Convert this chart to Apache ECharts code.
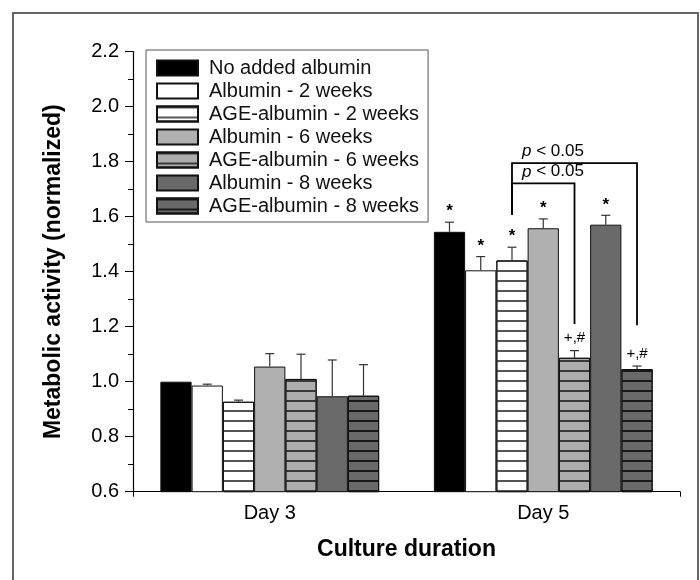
<!DOCTYPE html>
<html><head><meta charset="utf-8">
<script src="https://cdn.jsdelivr.net/npm/echarts@6/dist/echarts.min.js"></script>
<style>html,body{margin:0;padding:0;background:#fff}#c{width:700px;height:580px}</style>
</head><body><div id="c"></div>
<script>
// ---- data ----
const categories = ['Day 3', 'Day 5'];
const seriesNames = ['No added albumin', 'Albumin - 2 weeks', 'AGE-albumin - 2 weeks',
  'Albumin - 6 weeks', 'AGE-albumin - 6 weeks', 'Albumin - 8 weeks', 'AGE-albumin - 8 weeks'];
const noAdded = [1.000, 1.545];
const alb2 = [0.986, 1.405];
const age2 = [0.927, 1.441];
const alb6 = [1.055, 1.558];
const age6 = [1.010, 1.087];
const alb8 = [0.947, 1.571];
const age8 = [0.949, 1.046];
const errNoAdded = [0.000, 0.035];
const errAlb2 = [0.005, 0.050];
const errAge2 = [0.006, 0.048];
const errAlb6 = [0.047, 0.034];
const errAge6 = [0.090, 0.026];
const errAlb8 = [0.132, 0.034];
const errAge8 = [0.113, 0.011];
const marksNoAdded = ['', '*'];
const marksAlb2 = ['', '*'];
const marksAge2 = ['', '*'];
const marksAlb6 = ['', '*'];
const marksAge6 = ['', '+,#'];
const marksAlb8 = ['', '*'];
const marksAge8 = ['', '+,#'];
const yTicks = [0.6, 0.8, 1.0, 1.2, 1.4, 1.6, 1.8, 2.0, 2.2];
const pLabel = 'p < 0.05';

// ---- styling / layout ----
const FONT = '"Liberation Sans", Arial, Helvetica, sans-serif';
const values = [noAdded, alb2, age2, alb6, age6, alb8, age8];
const errs = [errNoAdded, errAlb2, errAge2, errAlb6, errAge6, errAlb8, errAge8];
const marks = [marksNoAdded, marksAlb2, marksAge2, marksAlb6, marksAge6, marksAlb8, marksAge8];
const fills = ['#000000', '#ffffff', '#ffffff', '#b0b0b0', '#adadad', '#696969', '#6a6a6a'];
const hatch = [null, null, '#555555', null, '#3a3a3a', null, '#1a1a1a'];
const NSER = seriesNames.length;

// brackets (annotation geometry in data units, Day 5 group)
const brackets = [
  { from: 2, to: 6, level: 1.795, leftBottom: 1.606, rightBottom: 1.205 },
  { from: 2, to: 4, level: 1.7215, leftBottom: 1.606, rightBottom: 1.21 }
];

const barSeries = seriesNames.map((name, i) => {
  const style = { color: fills[i], borderColor: '#111', borderWidth: 1 };
  if (hatch[i]) {
    style.decal = { symbol: 'rect', symbolSize: 1, dashArrayX: [1, 0], dashArrayY: [1.2, 7.3], rotation: 0, color: hatch[i] };
  }
  return {
    name, type: 'bar', data: values[i], barGap: '0%', barCategoryGap: '20%',
    itemStyle: style, emphasis: { disabled: true }
  };
});

const errItems = [];
for (let s = 0; s < NSER; s++) for (let c = 0; c < categories.length; c++) {
  errItems.push({ value: [c, s, values[s][c], errs[s][c]], mark: marks[s][c] });
}

const errorSeries = {
  type: 'custom', silent: true, z: 5, clip: false,
  data: errItems.map(d => d.value),
  renderItem(params, api) {
    const ci = api.value(0), si = api.value(1), v = api.value(2), e = api.value(3);
    const bw = api.size([1, 0])[0] * 0.8 / NSER;
    const base = api.coord([ci, v]);
    const x = base[0] + (si - (NSER - 1) / 2) * bw;
    const top = api.coord([ci, v + e])[1];
    const children = [];
    const ls = { stroke: '#333', lineWidth: 1.2 };
    if (e > 0) {
      children.push({ type: 'line', shape: { x1: x, y1: base[1], x2: x, y2: top }, style: ls });
      children.push({ type: 'line', shape: { x1: x - 4.5, y1: top, x2: x + 4.5, y2: top }, style: ls });
    }
    const m = errItems[params.dataIndex].mark;
    if (m) {
      const star = m === '*';
      children.push({ type: 'text', style: {
        text: m, x: x, y: top - (star ? 2 : 5), align: 'center', verticalAlign: 'bottom',
        fontFamily: FONT, fontSize: star ? 17 : 15, fontWeight: star ? 'bold' : 'normal', fill: '#000' } });
    }
    return { type: 'group', children };
  }
};

const bracketSeries = {
  type: 'custom', silent: true, z: 6, clip: false,
  data: brackets.map((b, i) => [1, i]),
  renderItem(params, api) {
    const b = brackets[params.dataIndex];
    const bw = api.size([1, 0])[0] * 0.8 / NSER;
    const c = api.coord([1, b.level]);
    const x1 = c[0] + (b.from - (NSER - 1) / 2) * bw;
    const x2 = c[0] + (b.to - (NSER - 1) / 2) * bw;
    const yL = c[1];
    const yLB = api.coord([1, b.leftBottom])[1];
    const yRB = api.coord([1, b.rightBottom])[1];
    return { type: 'group', children: [
      { type: 'polyline', shape: { points: [[x1, yLB], [x1, yL], [x2, yL], [x2, yRB]] },
        style: { stroke: '#000', lineWidth: 1.8, fill: null } },
      { type: 'text', style: {
        text: '{i|p} < 0.05', x: x1 + 10, y: yL - 3, align: 'left', verticalAlign: 'bottom',
        fontFamily: FONT, fontSize: 17, fill: '#000',
        rich: { i: { fontStyle: 'italic', fontFamily: FONT, fontSize: 17, fill: '#000' } } } }
    ] };
  }
};

const chart = echarts.init(document.getElementById('c'), null, { renderer: 'canvas' });
chart.setOption({
  animation: false,
  backgroundColor: '#fff',
  textStyle: { fontFamily: FONT },
  graphic: [{
    type: 'polyline', silent: true, z: 0,
    shape: { points: [[13, 590], [13, 13], [698, 13], [698, 590]] },
    style: { stroke: '#666', lineWidth: 2, fill: null }
  }],
  grid: { left: 133, right: 20, top: 51.7, bottom: 88.3, containLabel: false },
  legend: {
    data: seriesNames, orient: 'vertical', left: 146, top: 50,
    itemWidth: 41, itemHeight: 15, itemGap: 3, icon: 'rect',
    padding: [8, 9, 6, 10], borderColor: '#555', borderWidth: 1,
    selectedMode: false,
    textStyle: { fontSize: 20, color: '#111', fontFamily: FONT, padding: [0, 0, 0, 6] }
  },
  xAxis: [{
    type: 'category', data: categories,
    axisLine: { lineStyle: { color: '#000', width: 1.2 } },
    axisTick: { alignWithLabel: true, length: 7, lineStyle: { color: '#000' } },
    axisLabel: { fontSize: 20, color: '#000', margin: 12, fontFamily: FONT },
    name: 'Culture duration', nameLocation: 'middle', nameGap: 46,
    nameTextStyle: { fontSize: 23, fontWeight: 'bold', color: '#000', fontFamily: FONT }
  }, {
    type: 'value', min: 0, max: 1, interval: 1, position: 'bottom',
    axisLine: { show: false }, axisLabel: { show: false }, splitLine: { show: false },
    axisTick: { show: true, length: 5, lineStyle: { color: '#000' } }
  }],
  yAxis: {
    type: 'value', min: yTicks[0], max: yTicks[yTicks.length - 1], interval: 0.2,
    axisLine: { show: true, lineStyle: { color: '#000', width: 1.2 } },
    axisTick: { show: true, length: 8, lineStyle: { color: '#000' } },
    minorTick: { show: true, splitNumber: 2, length: 5, lineStyle: { color: '#000' } },
    splitLine: { show: false },
    axisLabel: { fontSize: 20, color: '#000', margin: 14, fontFamily: FONT, formatter: v => v.toFixed(1) },
    name: 'Metabolic activity (normalized)', nameLocation: 'middle', nameGap: 68,
    nameTextStyle: { fontSize: 23, fontWeight: 'bold', color: '#000', fontFamily: FONT }
  },
  series: [...barSeries, errorSeries, bracketSeries]
});
</script>
</body></html>
